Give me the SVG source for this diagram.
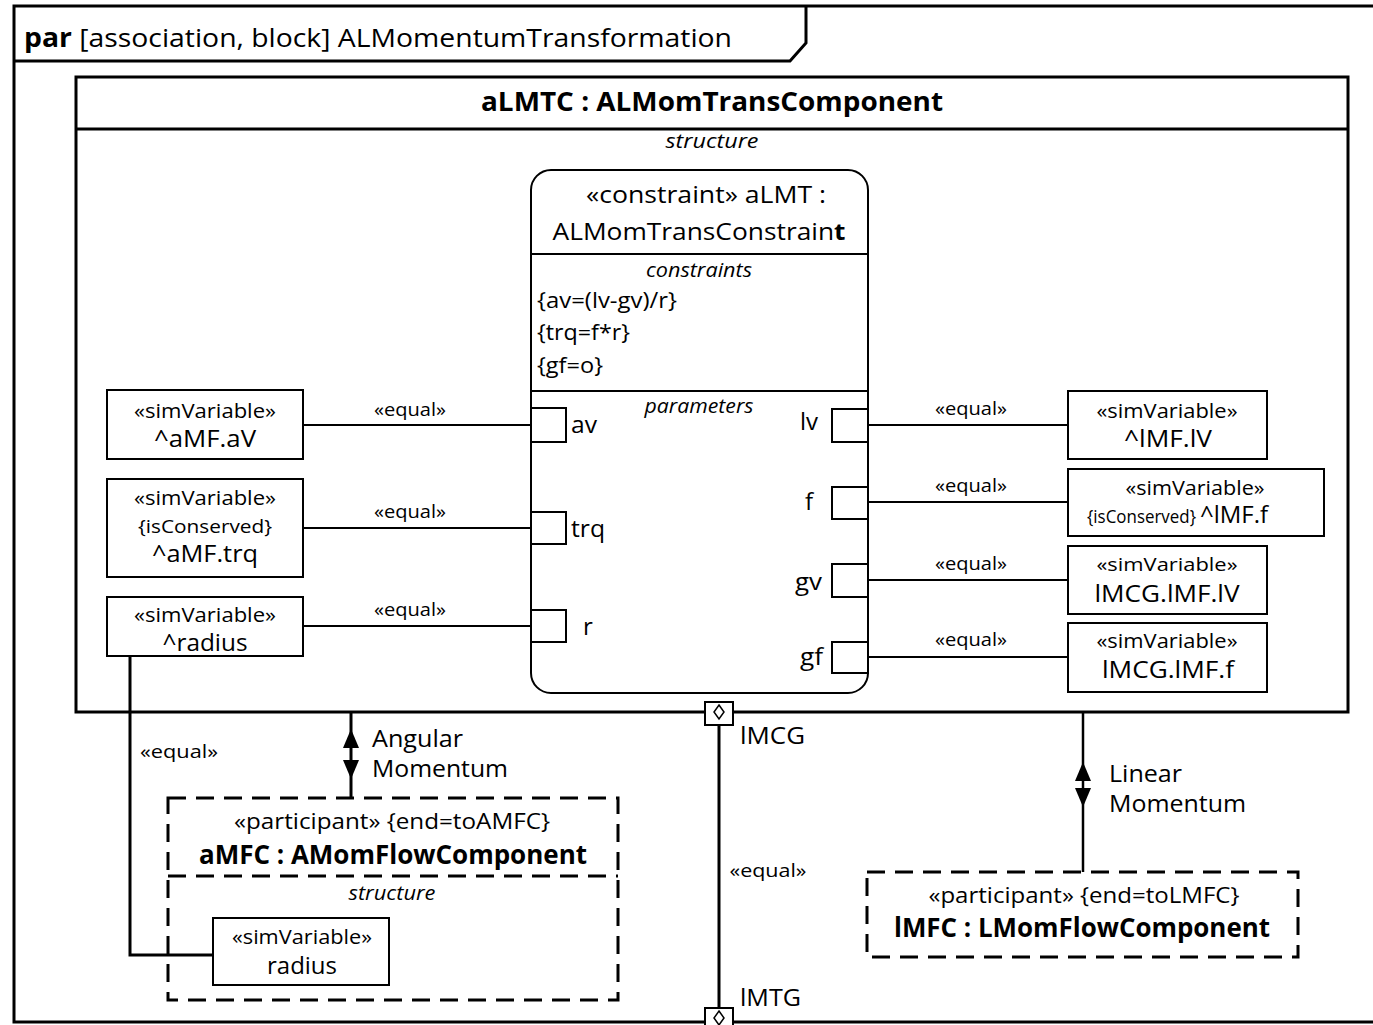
<svg xmlns="http://www.w3.org/2000/svg" width="1373" height="1025" viewBox="0 0 1373 1025">
<style>
text{font-family:"Open Sans","Noto Sans","Liberation Sans",sans-serif;fill:#000}
.t26{font-size:26px}
.b{font-weight:bold}
.it{font-style:italic;font-size:20px}
.t24{font-size:24px}
.t21{font-size:21px}
.t20{font-size:20px}
.t18{font-size:18px}
.m{text-anchor:middle}
.box{fill:#fff;stroke:#000;stroke-width:2}
.thick{fill:none;stroke:#000;stroke-width:3}
.dash{fill:none;stroke:#000;stroke-width:3;stroke-dasharray:18 10}
.ln{fill:none;stroke:#000;stroke-width:2}
.port{fill:#fff;stroke:#000;stroke-width:2}
</style>
<rect width="1373" height="1025" fill="#fff"/>

<g id="frame">
  <path class="thick" d="M1380,6 H14 V1022 H1380"/>
  <path class="thick" d="M14,61 H790 L806,43 V6"/>
  <text x="24" y="47" class="t26" textLength="708" lengthAdjust="spacingAndGlyphs"><tspan class="b">par</tspan> [association, block] ALMomentumTransformation</text>
</g>

<g id="aLMTC">
  <rect x="76" y="77" width="1272" height="635" fill="#fff" stroke="#000" stroke-width="3"/>
  <line x1="76" y1="129" x2="1348" y2="129" stroke="#000" stroke-width="3"/>
  <text x="712" y="111" class="t26 b m" textLength="462" lengthAdjust="spacingAndGlyphs">aLMTC : ALMomTransComponent</text>
  <text x="712" y="148" class="it m" textLength="93" lengthAdjust="spacingAndGlyphs">structure</text>
</g>

<g id="connectors">
  <line class="ln" x1="303" y1="425" x2="531" y2="425"/>
  <line class="ln" x1="303" y1="528" x2="531" y2="528"/>
  <line class="ln" x1="303" y1="626" x2="531" y2="626"/>
  <line class="ln" x1="868" y1="425" x2="1068" y2="425"/>
  <line class="ln" x1="868" y1="502" x2="1068" y2="502"/>
  <line class="ln" x1="868" y1="580" x2="1068" y2="580"/>
  <line class="ln" x1="868" y1="657" x2="1068" y2="657"/>
  <text x="410" y="416" class="t18 m" textLength="72" lengthAdjust="spacingAndGlyphs">«equal»</text>
  <text x="410" y="518" class="t18 m" textLength="72" lengthAdjust="spacingAndGlyphs">«equal»</text>
  <text x="410" y="616" class="t18 m" textLength="72" lengthAdjust="spacingAndGlyphs">«equal»</text>
  <text x="971" y="415" class="t18 m" textLength="72" lengthAdjust="spacingAndGlyphs">«equal»</text>
  <text x="971" y="492" class="t18 m" textLength="72" lengthAdjust="spacingAndGlyphs">«equal»</text>
  <text x="971" y="570" class="t18 m" textLength="72" lengthAdjust="spacingAndGlyphs">«equal»</text>
  <text x="971" y="646" class="t18 m" textLength="72" lengthAdjust="spacingAndGlyphs">«equal»</text>
  <!-- radius binding -->
  <path class="thick" d="M130,656 V955 H213"/>
  <text x="179" y="758" class="t18 m" textLength="78" lengthAdjust="spacingAndGlyphs">«equal»</text>
  <!-- Angular Momentum -->
  <line x1="351" y1="712" x2="351" y2="798" stroke="#000" stroke-width="3"/>
  <polygon points="351,729 343,748 359,748" fill="#000"/>
  <polygon points="343,760 359,760 351,779" fill="#000"/>
  <text x="372" y="747" class="t24" textLength="91" lengthAdjust="spacingAndGlyphs">Angular</text>
  <text x="372" y="777" class="t24" textLength="136" lengthAdjust="spacingAndGlyphs">Momentum</text>
  <!-- Linear Momentum -->
  <line x1="1083" y1="712" x2="1083" y2="872" stroke="#000" stroke-width="2.5"/>
  <polygon points="1083,762 1075,781 1091,781" fill="#000"/>
  <polygon points="1075,788 1091,788 1083,807" fill="#000"/>
  <text x="1109" y="782" class="t24" textLength="73" lengthAdjust="spacingAndGlyphs">Linear</text>
  <text x="1109" y="812" class="t24" textLength="137" lengthAdjust="spacingAndGlyphs">Momentum</text>
  <!-- lMCG - lMTG -->
  <line x1="719" y1="725" x2="719" y2="1008" stroke="#000" stroke-width="3"/>
  <text x="740" y="744" class="t24" textLength="65" lengthAdjust="spacingAndGlyphs">lMCG</text>
  <text x="740" y="1006" class="t24" textLength="61" lengthAdjust="spacingAndGlyphs">lMTG</text>
  <text x="768" y="877" class="t18 m" textLength="77" lengthAdjust="spacingAndGlyphs">«equal»</text>
</g>

<g id="port-lMCG">
  <rect x="705" y="702" width="28" height="23" fill="#fff" stroke="#000" stroke-width="2"/>
  <path d="M719,705 L724,712 L719,719 L714,712 Z" fill="none" stroke="#000" stroke-width="1.5"/>
</g>
<g id="port-lMTG">
  <rect x="705" y="1008" width="28" height="23" fill="#fff" stroke="#000" stroke-width="2"/>
  <path d="M719,1011 L724,1018 L719,1025 L714,1018 Z" fill="none" stroke="#000" stroke-width="1.5"/>
</g>

<g id="aLMT">
  <rect x="531" y="170" width="337" height="523" rx="20" ry="20" fill="#fff" stroke="#000" stroke-width="2"/>
  <line class="ln" x1="531" y1="254" x2="868" y2="254"/>
  <line class="ln" x1="531" y1="391" x2="868" y2="391"/>
  <text x="706" y="203" class="t24 m" textLength="240" lengthAdjust="spacingAndGlyphs">«constraint» aLMT :</text>
  <text x="699" y="240" class="t24 m" textLength="293" lengthAdjust="spacingAndGlyphs">ALMomTransConstrain<tspan class="b">t</tspan></text>
  <text x="699" y="277" class="it m" textLength="106" lengthAdjust="spacingAndGlyphs">constraints</text>
  <text x="537" y="308" class="t21" textLength="140" lengthAdjust="spacingAndGlyphs">{av=(lv-gv)/r}</text>
  <text x="537" y="340" class="t21" textLength="93" lengthAdjust="spacingAndGlyphs">{trq=f*r}</text>
  <text x="537" y="373" class="t21" textLength="66" lengthAdjust="spacingAndGlyphs">{gf=o}</text>
  <text x="699" y="413" class="it m" textLength="109" lengthAdjust="spacingAndGlyphs">parameters</text>
</g>

<g id="param-av"><rect class="port" x="531" y="408" width="35" height="34"/><text x="571" y="433" class="t24" textLength="26" lengthAdjust="spacingAndGlyphs">av</text></g>
<g id="param-trq"><rect class="port" x="531" y="512" width="35" height="32"/><text x="571" y="537" class="t24" textLength="34" lengthAdjust="spacingAndGlyphs">trq</text></g>
<g id="param-r"><rect class="port" x="531" y="610" width="35" height="32"/><text x="583" y="635" class="t24">r</text></g>
<g id="param-lv"><rect class="port" x="832" y="409" width="36" height="33"/><text x="818" y="430" class="t24" text-anchor="end">lv</text></g>
<g id="param-f"><rect class="port" x="832" y="487" width="36" height="32"/><text x="813" y="510" class="t24" text-anchor="end">f</text></g>
<g id="param-gv"><rect class="port" x="832" y="564" width="36" height="33"/><text x="822" y="590" class="t24" text-anchor="end" textLength="27" lengthAdjust="spacingAndGlyphs">gv</text></g>
<g id="param-gf"><rect class="port" x="832" y="642" width="36" height="31"/><text x="823" y="665" class="t24" text-anchor="end" textLength="23" lengthAdjust="spacingAndGlyphs">gf</text></g>

<g id="sv-aMF-aV">
  <rect class="box" x="107" y="390" width="196" height="69"/>
  <text x="205" y="418" class="t20 m" textLength="142" lengthAdjust="spacingAndGlyphs">«simVariable»</text>
  <text x="205" y="447" class="t24 m" textLength="102" lengthAdjust="spacingAndGlyphs">^aMF.aV</text>
</g>
<g id="sv-aMF-trq">
  <rect class="box" x="107" y="479" width="196" height="98"/>
  <text x="205" y="505" class="t20 m" textLength="142" lengthAdjust="spacingAndGlyphs">«simVariable»</text>
  <text x="205" y="533" class="t18 m" textLength="134" lengthAdjust="spacingAndGlyphs">{isConserved}</text>
  <text x="205" y="562" class="t24 m" textLength="106" lengthAdjust="spacingAndGlyphs">^aMF.trq</text>
</g>
<g id="sv-radius-outer">
  <rect class="box" x="107" y="597" width="196" height="59"/>
  <text x="205" y="622" class="t20 m" textLength="142" lengthAdjust="spacingAndGlyphs">«simVariable»</text>
  <text x="205" y="651" class="t24 m" textLength="85" lengthAdjust="spacingAndGlyphs">^radius</text>
</g>

<g id="sv-lMF-lV">
  <rect class="box" x="1068" y="391" width="199" height="68"/>
  <text x="1167" y="418" class="t20 m" textLength="141" lengthAdjust="spacingAndGlyphs">«simVariable»</text>
  <text x="1168" y="447" class="t24 m" textLength="88" lengthAdjust="spacingAndGlyphs">^lMF.lV</text>
</g>
<g id="sv-lMF-f">
  <rect class="box" x="1068" y="469" width="256" height="67"/>
  <text x="1195" y="495" class="t20 m" textLength="139" lengthAdjust="spacingAndGlyphs">«simVariable»</text>
  <text x="1087" y="523" class="t18" textLength="109" lengthAdjust="spacingAndGlyphs">{isConserved}</text>
  <text x="1200" y="523" class="t24" textLength="68" lengthAdjust="spacingAndGlyphs">^lMF.f</text>
</g>
<g id="sv-lMCG-lMF-lV">
  <rect class="box" x="1068" y="546" width="199" height="68"/>
  <text x="1167" y="571" style="font-size:19px" class="m" textLength="141" lengthAdjust="spacingAndGlyphs">«simVariable»</text>
  <text x="1167" y="602" style="font-size:23px" class="m" textLength="145" lengthAdjust="spacingAndGlyphs">lMCG.lMF.lV</text>
</g>
<g id="sv-lMCG-lMF-f">
  <rect class="box" x="1068" y="623" width="199" height="69"/>
  <text x="1167" y="648" class="t20 m" textLength="141" lengthAdjust="spacingAndGlyphs">«simVariable»</text>
  <text x="1168" y="678" class="t24 m" textLength="132" lengthAdjust="spacingAndGlyphs">lMCG.lMF.f</text>
</g>

<g id="aMFC">
  <rect class="dash" x="168" y="798" width="450" height="202"/>
  <line x1="168" y1="876" x2="618" y2="876" stroke="#000" stroke-width="3" stroke-dasharray="18 10"/>
  <text x="392" y="829" class="t21 m" textLength="316" lengthAdjust="spacingAndGlyphs">«participant» {end=toAMFC}</text>
  <text x="393" y="864" class="t26 b m" textLength="388" lengthAdjust="spacingAndGlyphs">aMFC : AMomFlowComponent</text>
  <text x="392" y="900" class="it m" textLength="87" lengthAdjust="spacingAndGlyphs">structure</text>
</g>
<g id="sv-radius">
  <rect class="box" x="213" y="918" width="176" height="67"/>
  <text x="302" y="944" class="t20 m" textLength="140" lengthAdjust="spacingAndGlyphs">«simVariable»</text>
  <text x="302" y="974" class="t24 m" textLength="70" lengthAdjust="spacingAndGlyphs">radius</text>
</g>

<g id="lMFC">
  <rect class="dash" x="867" y="872" width="431" height="85"/>
  <text x="1084" y="903" class="t21 m" textLength="311" lengthAdjust="spacingAndGlyphs">«participant» {end=toLMFC}</text>
  <text x="1082" y="937" class="t26 b m" textLength="376" lengthAdjust="spacingAndGlyphs">lMFC : LMomFlowComponent</text>
</g>
</svg>
